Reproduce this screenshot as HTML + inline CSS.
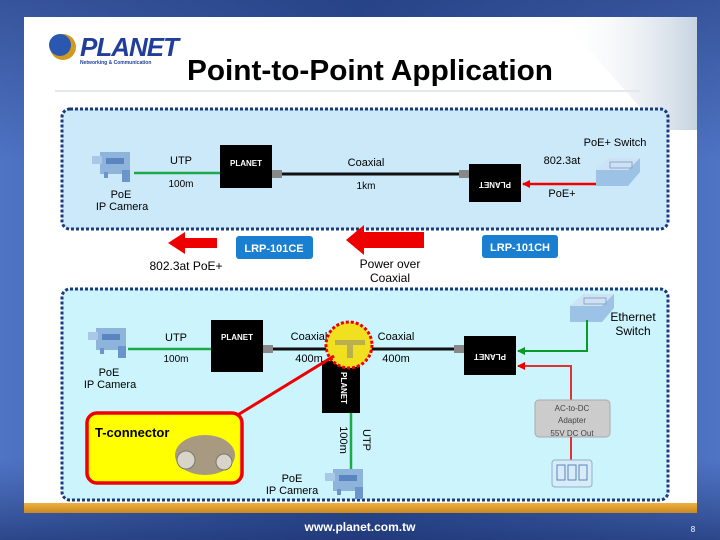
<!DOCTYPE html>
<html><head><meta charset="utf-8"><style>
html,body{margin:0;padding:0;width:720px;height:540px;overflow:hidden}
svg{display:block;font-family:"Liberation Sans",sans-serif}
</style></head><body>
<svg width="720" height="540" viewBox="0 0 720 540" xmlns="http://www.w3.org/2000/svg">
<defs>
<linearGradient id="bg" x1="0" y1="0" x2="1" y2="0">
<stop offset="0" stop-color="#4f74c4"/><stop offset="0.5" stop-color="#2b4a93"/><stop offset="1" stop-color="#4f74c4"/>
</linearGradient>
<linearGradient id="bgv" x1="0" y1="0" x2="0" y2="1">
<stop offset="0" stop-color="#263f80" stop-opacity="0.6"/><stop offset="0.3" stop-color="#263f80" stop-opacity="0"/><stop offset="0.85" stop-color="#263f80" stop-opacity="0"/><stop offset="1" stop-color="#1d3370" stop-opacity="0.7"/>
</linearGradient>
<linearGradient id="srv" x1="0" y1="0" x2="1" y2="0">
<stop offset="0" stop-color="#fff" stop-opacity="0"/><stop offset="1" stop-color="#b8c8d8"/>
</linearGradient>
<linearGradient id="org" x1="0" y1="0" x2="0" y2="1">
<stop offset="0" stop-color="#f0b040"/><stop offset="1" stop-color="#c88a20"/>
</linearGradient>
<marker id="ar" markerWidth="8" markerHeight="8" refX="7" refY="4" orient="auto" markerUnits="userSpaceOnUse"><path d="M0,0 L8,4 L0,8 z" fill="#e00"/></marker>
<marker id="ag" markerWidth="8" markerHeight="8" refX="7" refY="4" orient="auto" markerUnits="userSpaceOnUse"><path d="M0,0 L8,4 L0,8 z" fill="#0a9a2a"/></marker>
<g id="cam"><rect x="8" y="2" width="30" height="22" fill="#8fb4dc"/><rect x="0" y="6" width="10" height="8" fill="#a9c8e8"/><rect x="14" y="8" width="18" height="6" fill="#5a85c0"/><rect x="30" y="20" width="8" height="12" fill="#6a94cc"/><rect x="12" y="22" width="4" height="6" fill="#6a94cc"/></g>
<g id="sw"><path d="M0,12 L14,0 L44,0 L44,14 L32,28 L0,28 z" fill="#9cc2e6"/><path d="M0,12 L14,0 L44,0 L32,12 z" fill="#cfe2f4"/><rect x="14" y="4" width="22" height="6" fill="none" stroke="#8aa8c8"/></g>
</defs>
<rect width="720" height="540" fill="url(#bg)"/>
<rect width="720" height="540" fill="url(#bgv)"/>
<rect x="24" y="17" width="673" height="490" fill="#fff"/>
<path d="M560,17 L697,17 L697,130 L660,130 Z" fill="url(#srv)" opacity="0.8"/>
<rect x="24" y="503" width="673" height="10" fill="url(#org)"/>
<line x1="55" y1="91" x2="640" y2="91" stroke="#e4e8ec" stroke-width="2"/>
<!-- logo -->
<circle cx="63" cy="47" r="13" fill="#d09a20"/><circle cx="60" cy="45" r="11" fill="#2a58b0"/>
<text x="80" y="56" font-size="26" font-weight="bold" fill="#1f3f9a" font-style="italic" letter-spacing="-1">PLANET</text>
<text x="80" y="64" font-size="5" fill="#1f3f9a" font-weight="bold">Networking &amp; Communication</text>
<text x="370" y="80" font-size="29" font-weight="bold" text-anchor="middle" fill="#000" textLength="366" lengthAdjust="spacingAndGlyphs">Point-to-Point Application</text>
<!-- top box -->
<rect x="62" y="109" width="606" height="120" rx="8" fill="#cce9f9" stroke="#1a3a80" stroke-width="3" stroke-dasharray="3,2"/>
<use href="#cam" x="92" y="150"/>
<line x1="134" y1="173" x2="220" y2="173" stroke="#1aaa4a" stroke-width="2.5"/>
<text x="181" y="164" font-size="11" text-anchor="middle">UTP</text>
<text x="181" y="187" font-size="10" text-anchor="middle">100m</text>
<text x="121" y="198" font-size="11" text-anchor="middle">PoE</text>
<text x="122" y="210" font-size="11" text-anchor="middle">IP Camera</text>
<rect x="220" y="145" width="52" height="43" fill="#000"/>
<text x="246" y="166" font-size="8" font-weight="bold" fill="#fff" text-anchor="middle">PLANET</text>
<line x1="272" y1="174" x2="469" y2="174" stroke="#111" stroke-width="3"/>
<rect x="272" y="170" width="10" height="8" fill="#888"/><rect x="459" y="170" width="10" height="8" fill="#888"/>
<text x="366" y="166" font-size="11" text-anchor="middle">Coaxial</text>
<text x="366" y="189" font-size="10" text-anchor="middle">1km</text>
<rect x="469" y="164" width="52" height="38" fill="#000"/>
<text x="495" y="188" font-size="8" font-weight="bold" fill="#fff" text-anchor="middle" transform="rotate(180 495 185)">PLANET</text>
<line x1="596" y1="184" x2="523" y2="184" stroke="#e00" stroke-width="2.5" marker-end="url(#ar)"/>
<text x="562" y="164" font-size="11" text-anchor="middle">802.3at</text>
<text x="562" y="197" font-size="11" text-anchor="middle">PoE+</text>
<text x="615" y="146" font-size="11" text-anchor="middle">PoE+ Switch</text>
<use href="#sw" x="596" y="158"/>
<!-- middle -->
<path d="M217,238 L185,238 L185,232 L168,243 L185,254 L185,248 L217,248 z" fill="#e00"/>
<path d="M424,232 L364,232 L364,225 L346,240 L364,255 L364,248 L424,248 z" fill="#e00"/>
<rect x="236" y="236" width="77" height="23" rx="3" fill="#1a7fd0"/>
<text x="274" y="252" font-size="11" font-weight="bold" fill="#fff" text-anchor="middle">LRP-101CE</text>
<rect x="482" y="235" width="76" height="23" rx="3" fill="#1a7fd0"/>
<text x="520" y="251" font-size="11" font-weight="bold" fill="#fff" text-anchor="middle">LRP-101CH</text>
<text x="186" y="270" font-size="12" text-anchor="middle">802.3at PoE+</text>
<text x="390" y="268" font-size="12" text-anchor="middle">Power over</text>
<text x="390" y="282" font-size="12" text-anchor="middle">Coaxial</text>
<!-- bottom box -->
<rect x="62" y="289" width="606" height="211" rx="8" fill="#ccf4fc" stroke="#1a3a80" stroke-width="3" stroke-dasharray="3,2"/>
<use href="#cam" x="88" y="326"/>
<line x1="128" y1="349" x2="211" y2="349" stroke="#1aaa4a" stroke-width="2.5"/>
<text x="176" y="341" font-size="11" text-anchor="middle">UTP</text>
<text x="176" y="362" font-size="10" text-anchor="middle">100m</text>
<text x="109" y="376" font-size="11" text-anchor="middle">PoE</text>
<text x="110" y="388" font-size="11" text-anchor="middle">IP Camera</text>
<rect x="211" y="320" width="52" height="52" fill="#000"/>
<text x="237" y="340" font-size="8" font-weight="bold" fill="#fff" text-anchor="middle">PLANET</text>
<line x1="263" y1="349" x2="464" y2="349" stroke="#111" stroke-width="3"/>
<rect x="263" y="345" width="10" height="8" fill="#888"/><rect x="454" y="345" width="10" height="8" fill="#888"/>
<text x="309" y="340" font-size="11" text-anchor="middle">Coaxial</text>
<text x="309" y="362" font-size="11" text-anchor="middle">400m</text>
<text x="396" y="340" font-size="11" text-anchor="middle">Coaxial</text>
<text x="396" y="362" font-size="11" text-anchor="middle">400m</text>
<rect x="322" y="361" width="38" height="52" fill="#000"/>
<text x="341" y="388" font-size="8" font-weight="bold" fill="#fff" text-anchor="middle" transform="rotate(90 341 388)">PLANET</text>
<circle cx="349" cy="345" r="23" fill="#f0e020" stroke="#e00" stroke-width="3" stroke-dasharray="3,2"/>
<rect x="335" y="340" width="30" height="5" fill="#b8b050"/><rect x="347" y="340" width="6" height="18" fill="#b8b050"/>
<line x1="236" y1="416" x2="334" y2="356" stroke="#e00" stroke-width="3"/>
<rect x="87" y="413" width="155" height="70" rx="10" fill="#ffff00" stroke="#e00" stroke-width="3.5"/>
<text x="95" y="437" font-size="13" font-weight="bold">T-connector</text>
<ellipse cx="205" cy="455" rx="30" ry="20" fill="#a89a80"/><circle cx="186" cy="460" r="9" fill="#d8d4c8" stroke="#777"/><circle cx="224" cy="462" r="8" fill="#d8d4c8" stroke="#777"/>
<line x1="351" y1="413" x2="351" y2="470" stroke="#1aaa4a" stroke-width="2.5"/>
<text x="340" y="440" font-size="11" text-anchor="middle" transform="rotate(90 340 440)">100m</text>
<text x="363" y="440" font-size="11" text-anchor="middle" transform="rotate(90 363 440)">UTP</text>
<use href="#cam" x="325" y="467"/>
<text x="292" y="482" font-size="11" text-anchor="middle">PoE</text>
<text x="292" y="494" font-size="11" text-anchor="middle">IP Camera</text>
<rect x="464" y="336" width="52" height="39" fill="#000"/>
<text x="490" y="360" font-size="8" font-weight="bold" fill="#fff" text-anchor="middle" transform="rotate(180 490 357)">PLANET</text>
<use href="#sw" x="570" y="294"/>
<text x="633" y="321" font-size="12" text-anchor="middle">Ethernet</text>
<text x="633" y="335" font-size="12" text-anchor="middle">Switch</text>
<polyline points="587,320 587,351 518,351" fill="none" stroke="#0a9a2a" stroke-width="2" marker-end="url(#ag)"/>
<polyline points="571,400 571,366 518,366" fill="none" stroke="#d33" stroke-width="2" marker-end="url(#ar)"/>
<rect x="535" y="400" width="75" height="37" rx="4" fill="#ccc" stroke="#aaa"/>
<text x="572" y="411" font-size="8" text-anchor="middle" fill="#444">AC-to-DC</text>
<text x="572" y="423" font-size="8" text-anchor="middle" fill="#444">Adapter</text>
<text x="572" y="436" font-size="8" text-anchor="middle" fill="#444">55V DC Out</text>
<line x1="571" y1="437" x2="571" y2="460" stroke="#d33" stroke-width="2"/>
<rect x="552" y="460" width="40" height="27" rx="3" fill="#d8ecf8" stroke="#8ab0d0"/>
<rect x="557" y="465" width="8" height="15" fill="none" stroke="#5a85c0"/><rect x="568" y="465" width="8" height="15" fill="none" stroke="#5a85c0"/><rect x="579" y="465" width="8" height="15" fill="none" stroke="#5a85c0"/>
<!-- footer -->
<text x="360" y="531" font-size="12" font-weight="bold" fill="#fff" text-anchor="middle">www.planet.com.tw</text>
<text x="693" y="532" font-size="8" fill="#fff" text-anchor="middle">8</text>
</svg>
</body></html>
